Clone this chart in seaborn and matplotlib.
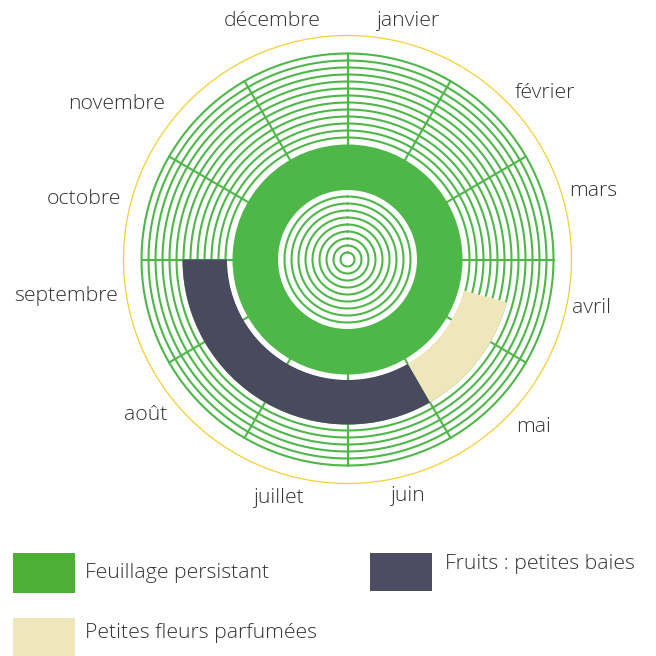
import numpy as np
import matplotlib.pyplot as plt
import seaborn as sns

# Calendar of the plant, periods in months counted from 1 January
months = ["janvier", "février", "mars", "avril", "mai", "juin",
          "juillet", "août", "septembre", "octobre", "novembre", "décembre"]
feuillage = (0, 12)
fleurs = (3.5, 5)
fruits = (5, 9)
series_names = ["Feuillage persistant", "Fruits : petites baies", "Petites fleurs parfumées"]

green = "#4DB748"
dark = "#4A4A5F"
beige = "#F0E6BC"
yellow = "#F5D033"
text_col = "#333333"

sns.set_theme(style="white")
plt.rcParams['font.family'] = ['Open Sans', 'DejaVu Sans']

W = 656
fig = plt.figure(figsize=(6.56, 6.56), dpi=100)
cx, cy, R = 347.5, 259.5, 232
ax = fig.add_axes([(cx - R) / W, (W - cy - R) / W, 2 * R / W, 2 * R / W], projection='polar')
ax.set_theta_zero_location('N')
ax.set_theta_direction(-1)
ax.set_ylim(0, R)
ax.set_axis_off()


def month_angle(m):
    return m / 12 * 2 * np.pi


full = np.linspace(0, 2 * np.pi, 500)

# concentric rings
inner_rings = np.arange(7, 64, 7)
outer_rings = 122 + 7 * np.arange(13)
for r in np.concatenate([inner_rings, outer_rings]):
    ax.plot(full, np.full_like(full, r), color=green, lw=1.5, zorder=1)

# month separators
for m in range(12):
    t = month_angle(m)
    ax.plot([t, t], [100, outer_rings[-1]], color=green, lw=1.5, zorder=1)

# yellow outer circle
ax.plot(full, np.full_like(full, 224), color=yellow, lw=0.9, zorder=1)


def arc(span, r0, r1, color):
    t0, t1 = month_angle(span[0]), month_angle(span[1])
    ax.bar(t0, r1 - r0, width=t1 - t0, bottom=r0, align='edge',
           color=color, linewidth=0, zorder=3)


arc(feuillage, 69.5, 115, green)
arc(fleurs, 120.5, 165, beige)
arc(fruits, 120.5, 165, dark)

# month labels (angle in degrees, radius in px)
label_pos = [(14.2, 246), (49.8, 258), (74.5, 255), (101.3, 249), (132, 250), (165.9, 244),
             (196.3, 248), (232.4, 255), (262.7, 284), (283, 270), (303.9, 278), (342.5, 250)]
for name, (a, r) in zip(months, label_pos):
    ax.text(np.deg2rad(a), r, name, ha='center', va='center', fontsize=15.3,
            color=text_col, fontweight='light')


# legend
def px_box(x0, y0, x1, y1, color):
    fig.add_artist(plt.Rectangle((x0 / W, 1 - y1 / W), (x1 - x0) / W, (y1 - y0) / W,
                                 transform=fig.transFigure, color=color, lw=0))


def px_text(x, y, s):
    fig.text(x / W, 1 - y / W, s, ha='left', va='center', fontsize=15.3,
             color=text_col, fontweight='light')


px_box(13, 553, 75, 593, "#4DAF35")
px_text(85, 573, series_names[0])
px_box(370, 553, 432, 591, "#4E4C63")
px_text(445, 564, series_names[1])
px_box(13, 618, 75, 656, beige)
px_text(85, 633, series_names[2])

fig.savefig("out.png", dpi=100)
